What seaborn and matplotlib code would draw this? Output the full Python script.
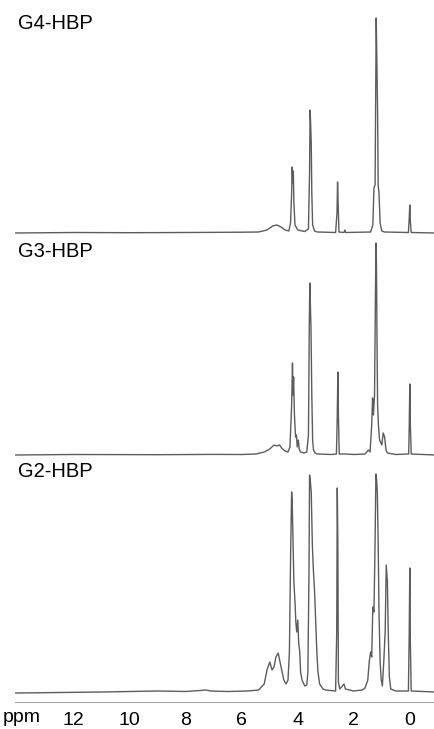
import matplotlib
matplotlib.use("Agg")
import matplotlib.pyplot as plt
import seaborn as sns
import pandas as pd

# Traced 1H NMR spectra: chemical shift (ppm) and intensity (arbitrary units)
g4_ppm = [14.1, 12, 10, 8, 6, 5.4, 5.1, 4.9, 4.75, 4.6, 4.45, 4.32, 4.26, 4.22, 4.2, 4.18,
          4.16, 4.14, 4.1, 4.0, 3.75, 3.62, 3.58, 3.56, 3.54, 3.52, 3.5, 3.47, 3.4, 3.3,
          2.65, 2.6, 2.58, 2.56, 2.53, 2.35, 2.32, 2.29, 1.4, 1.32, 1.28, 1.24, 1.22, 1.2, 1.18,
          1.15, 1.13, 1.1, 1.06, 1.0, 0.9, 0.05, 0.02, 0.0, -0.02, -0.05, -0.9]
g4_int = [0, 0.5, 0.3, 0.5, 0.8, 1, 3, 7, 8, 6, 3, 2, 10, 40, 66, 50,
          62, 30, 8, 3, 1.5, 4, 60, 123, 108, 90, 40, 8, 2, 1,
          0.5, 20, 51, 30, 1, 0.5, 3, 0.5, 1, 8, 45, 48, 130, 215, 180,
          120, 48, 40, 10, 2, 1, 0.5, 15, 28, 12, 0.5, 0]

g3_ppm = [14.1, 12, 9, 7, 6, 5.5, 5.2, 5.0, 4.85, 4.75, 4.65, 4.55, 4.45, 4.35, 4.28, 4.22,
          4.19, 4.17, 4.15, 4.12, 4.08, 4.05, 4.02, 3.98, 3.95, 3.9, 3.78, 3.68, 3.62, 3.59,
          3.57, 3.55, 3.53, 3.5, 3.47, 3.44, 3.38, 3.3, 2.8, 2.62, 2.59, 2.57, 2.55, 2.52,
          2.3, 2.0, 1.6, 1.48, 1.42, 1.36, 1.33, 1.3, 1.26, 1.23, 1.21, 1.19, 1.17, 1.15,
          1.12, 1.08, 1.0, 0.95, 0.9, 0.85, 0.8, 0.5, 0.04, 0.02, 0.0, -0.02, -0.05, -0.9]
g3_int = [0, 0.5, 0.3, 0.6, 0.5, 1, 3, 6, 10, 9, 10, 6, 4, 3, 8, 50,
          92, 60, 78, 40, 18, 20, 8, 15, 6, 3, 2, 3, 20, 130,
          172, 150, 128, 60, 15, 5, 2, 1, 0.5, 1, 40, 83, 40, 1,
          1, 0.5, 1, 5, 3, 30, 57, 40, 60, 150, 212, 190, 110, 50,
          30, 15, 10, 22, 18, 5, 2, 0.5, 1, 30, 71, 30, 1, 0]

g2_ppm = [14.1, 14, 11, 9, 8, 7.5, 7.3, 7.1, 6.5, 5.8, 5.4, 5.2, 5.1, 5.0, 4.92, 4.85,
          4.78, 4.7, 4.62, 4.5, 4.42, 4.35, 4.3, 4.25, 4.22, 4.2, 4.17, 4.14, 4.1, 4.07,
          4.04, 4.0, 3.97, 3.93, 3.9, 3.85, 3.75, 3.68, 3.64, 3.6, 3.58, 3.55, 3.52, 3.48,
          3.44, 3.4, 3.36, 3.32, 3.28, 3.22, 3.1, 3.0, 2.65, 2.61, 2.59, 2.57, 2.55, 2.5,
          2.35, 2.3, 2.0, 1.7, 1.6, 1.5, 1.45, 1.4, 1.36, 1.32, 1.28, 1.24, 1.21, 1.19,
          1.16, 1.13, 1.1, 1.06, 1.02, 0.98, 0.93, 0.88, 0.84, 0.8, 0.77, 0.73, 0.68, 0.5,
          0.05, 0.02, 0.0, -0.02, -0.05, -0.9]
g2_int = [-1, -1, 0, 1, 0.5, 1.5, 2, 1, 0.5, 1, 2, 8, 22, 30, 22, 25,
          35, 39, 28, 12, 8, 12, 40, 150, 200, 190, 150, 110, 90, 70,
          60, 72, 50, 40, 20, 12, 6, 7, 20, 120, 217, 210, 200, 147,
          120, 100, 70, 40, 20, 8, 3, 2, 1, 60, 204, 150, 10, 3,
          8, 3, 1, 2, 4, 12, 30, 40, 35, 85, 80, 150, 218, 214,
          200, 150, 80, 30, 12, 6, 30, 60, 127, 110, 60, 15, 3, 1,
          1, 60, 124, 50, 1, 0]

sample_names = ["G4-HBP", "G3-HBP", "G2-HBP"]
tick_values = [12, 10, 8, 6, 4, 2, 0]

# vertical stacking of the three traces (same units as intensity)
offsets = {"G4-HBP": 469, "G3-HBP": 247, "G2-HBP": 10}
series = {"G4-HBP": (g4_ppm, g4_int),
          "G3-HBP": (g3_ppm, g3_int),
          "G2-HBP": (g2_ppm, g2_int)}

frames = []
for name in sample_names:
    ppm, inten = series[name]
    frames.append(pd.DataFrame({"ppm": ppm,
                                "signal": [v + offsets[name] for v in inten],
                                "sample": name}))
df = pd.concat(frames, ignore_index=True)

sns.set_theme(style="white")
plt.rcParams["font.family"] = ["Liberation Sans", "DejaVu Sans"]

W, H = 435, 729
fig = plt.figure(figsize=(W / 100, H / 100), dpi=100)
ax = fig.add_axes([15 / W, 27 / H, 1 - 15 / W, 692 / H])

sns.lineplot(data=df, x="ppm", y="signal", units="sample", estimator=None,
             sort=False, color="#5c5c5c", linewidth=1.0, ax=ax, legend=False)

ax.set_xlim(14.1, -0.9)
ax.set_ylim(0, 692)
for side in ("top", "left", "right"):
    ax.spines[side].set_visible(False)
ax.spines["bottom"].set_color("#a8a8a8")
ax.spines["bottom"].set_linewidth(0.8)
ax.set_yticks([])
ax.set_xticks(tick_values)
ax.set_xticklabels([str(t) for t in tick_values])
ax.tick_params(axis="x", length=0, pad=7, labelsize=14, colors="#000000")
ax.set_xlabel("")
ax.set_ylabel("")

fig.text(22 / W, 1 - 718 / H, "ppm", ha="center", va="center",
         fontsize=14, color="#000000")

label_tops = {"G4-HBP": 14, "G3-HBP": 242, "G2-HBP": 462}
for name in sample_names:
    fig.text(18 / W, 1 - label_tops[name] / H, name, ha="left", va="top",
             fontsize=14.5, color="#000000")

fig.savefig("out.png", dpi=100, facecolor="white")
